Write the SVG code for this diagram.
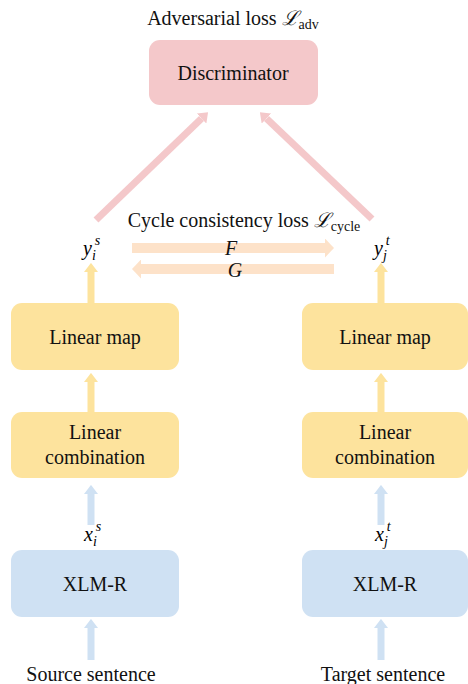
<svg xmlns="http://www.w3.org/2000/svg" width="468" height="684" viewBox="0 0 468 684">
<style>
text{font-family:"Liberation Serif","Times New Roman",serif;}
.t{font-size:20px;text-anchor:middle;fill:#111;}
.sub{font-size:14px;}
.it{font-style:italic;}
.pink{fill:#f4c8ca;}
.yel{fill:#fde39d;}
.blue{fill:#cfe1f3;}
.c{stroke-linecap:butt;fill:none;}
</style>
<defs>
<marker id="hb" viewBox="0 0 10 10" refX="0" refY="5" markerWidth="1.3" markerHeight="2" markerUnits="strokeWidth" orient="auto" preserveAspectRatio="none"><path d="M0,0L10,5L0,10z" fill="#cfe1f3"/></marker>
<marker id="hy" viewBox="0 0 10 10" refX="0" refY="5" markerWidth="1.3" markerHeight="2" markerUnits="strokeWidth" orient="auto" preserveAspectRatio="none"><path d="M0,0L10,5L0,10z" fill="#fde39d"/></marker>
<marker id="hp" viewBox="0 0 10 10" refX="0" refY="5" markerWidth="1.3" markerHeight="2" markerUnits="strokeWidth" orient="auto" preserveAspectRatio="none"><path d="M0,0L10,5L0,10z" fill="#f4c8ca"/></marker>
<marker id="hc" viewBox="0 0 10 10" refX="0" refY="5" markerWidth="0.9" markerHeight="1.9" markerUnits="strokeWidth" orient="auto" preserveAspectRatio="none"><path d="M0,0L10,5L0,10z" fill="#fde2c9"/></marker>
</defs>

<g id="connectors">
<line class="c" x1="91" y1="660" x2="91" y2="628" stroke="#cfe1f3" stroke-width="7" marker-end="url(#hb)"/>
<line class="c" x1="381" y1="660" x2="381" y2="628" stroke="#cfe1f3" stroke-width="7" marker-end="url(#hb)"/>
<line class="c" x1="91" y1="525" x2="91" y2="494" stroke="#cfe1f3" stroke-width="7" marker-end="url(#hb)"/>
<line class="c" x1="381" y1="525" x2="381" y2="494" stroke="#cfe1f3" stroke-width="7" marker-end="url(#hb)"/>
<line class="c" x1="91" y1="412" x2="91" y2="382" stroke="#fde39d" stroke-width="7" marker-end="url(#hy)"/>
<line class="c" x1="381" y1="412" x2="381" y2="382" stroke="#fde39d" stroke-width="7" marker-end="url(#hy)"/>
<line class="c" x1="91" y1="303" x2="91" y2="272" stroke="#fde39d" stroke-width="7" marker-end="url(#hy)"/>
<line class="c" x1="381" y1="303" x2="381" y2="272" stroke="#fde39d" stroke-width="7" marker-end="url(#hy)"/>
<line class="c" x1="96" y1="220" x2="201.5" y2="118.5" stroke="#f4c8ca" stroke-width="7" marker-end="url(#hp)"/>
<line class="c" x1="372" y1="219" x2="266.5" y2="118.5" stroke="#f4c8ca" stroke-width="7" marker-end="url(#hp)"/>
<line class="c" x1="132" y1="248" x2="325" y2="248" stroke="#fde2c9" stroke-width="10" marker-end="url(#hc)"/>
<line class="c" x1="334" y1="269" x2="141" y2="269" stroke="#fde2c9" stroke-width="10" marker-end="url(#hc)"/>
<text class="t it" x="231" y="255">F</text>
<text class="t it" x="235" y="277">G</text>
</g>

<g id="title-adv">
<text class="t" x="233" y="25">Adversarial loss <tspan class="it">ℒ</tspan><tspan class="sub" dy="4">adv</tspan></text>
</g>
<g id="title-cycle">
<text class="t" x="244" y="227">Cycle consistency loss <tspan class="it">ℒ</tspan><tspan class="sub" dy="4">cycle</tspan></text>
</g>

<g id="discriminator">
<rect class="pink" x="149" y="40" width="169" height="65" rx="11"/>
<text class="t" x="233" y="80">Discriminator</text>
</g>

<g id="ys">
<text class="it" x="83" y="255" font-size="20">y<tspan font-size="14" dy="5">i</tspan><tspan font-size="14" dx="-1" dy="-15">s</tspan></text>
</g>
<g id="yt">
<text class="it" x="374" y="255" font-size="20">y<tspan font-size="14" dy="5">j</tspan><tspan font-size="14" dx="-1" dy="-15">t</tspan></text>
</g>

<g id="linear-map-src">
<rect class="yel" x="11" y="303" width="168" height="67" rx="11"/>
<text class="t" x="95" y="344">Linear map</text>
</g>
<g id="linear-map-tgt">
<rect class="yel" x="302" y="303" width="166" height="67" rx="11"/>
<text class="t" x="385" y="344">Linear map</text>
</g>

<g id="linear-comb-src">
<rect class="yel" x="11" y="412" width="168" height="66" rx="11"/>
<text class="t" x="95" y="439">Linear</text>
<text class="t" x="95" y="464">combination</text>
</g>
<g id="linear-comb-tgt">
<rect class="yel" x="302" y="412" width="166" height="66" rx="11"/>
<text class="t" x="385" y="439">Linear</text>
<text class="t" x="385" y="464">combination</text>
</g>

<g id="xs">
<text class="it" x="84" y="541" font-size="20">x<tspan font-size="14" dy="5">i</tspan><tspan font-size="14" dx="-1" dy="-15">s</tspan></text>
</g>
<g id="xt">
<text class="it" x="375" y="541" font-size="20">x<tspan font-size="14" dy="5">j</tspan><tspan font-size="14" dx="-1" dy="-15">t</tspan></text>
</g>

<g id="xlmr-src">
<rect class="blue" x="11" y="550" width="168" height="67" rx="11"/>
<text class="t" x="95" y="591">XLM-R</text>
</g>
<g id="xlmr-tgt">
<rect class="blue" x="302" y="550" width="166" height="67" rx="11"/>
<text class="t" x="385" y="591">XLM-R</text>
</g>

<g id="source-sentence">
<text class="t" x="91" y="681">Source sentence</text>
</g>
<g id="target-sentence">
<text class="t" x="383" y="681">Target sentence</text>
</g>
</svg>
